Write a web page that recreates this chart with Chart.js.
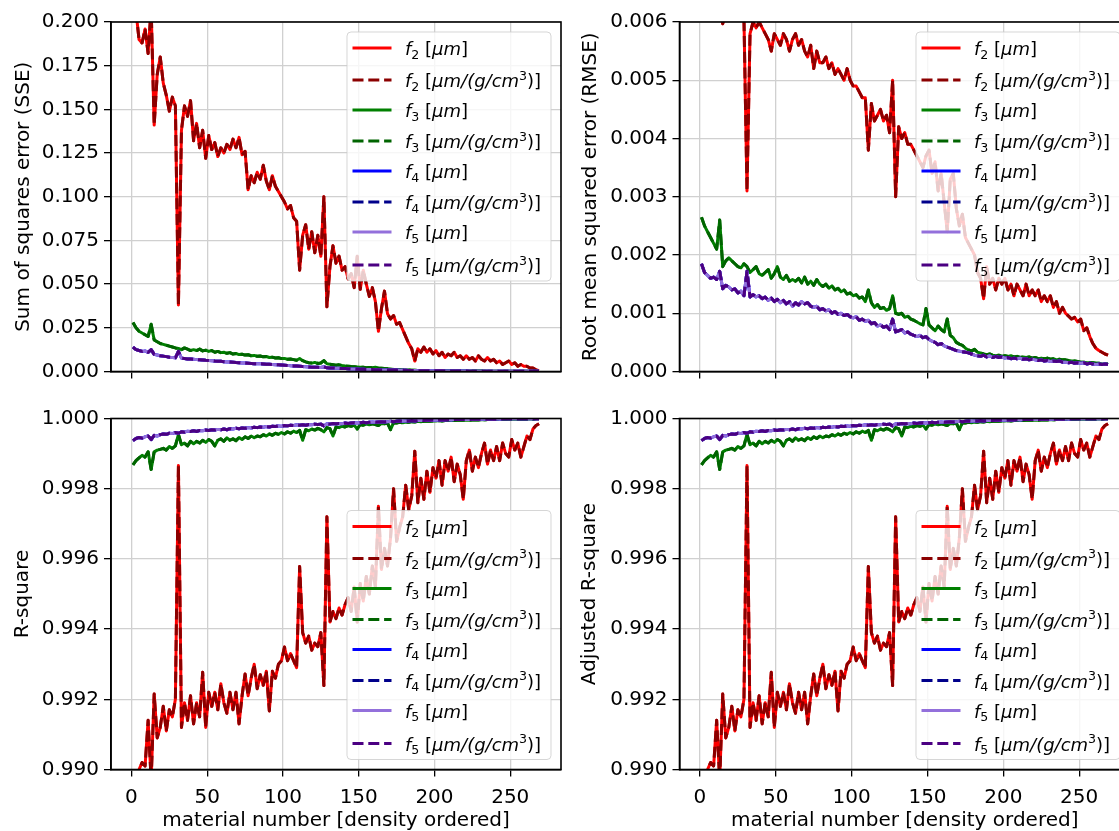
<!DOCTYPE html>
<html>
<head>
<meta charset="utf-8">
<title>Fit quality per material</title>
<script src="https://cdn.jsdelivr.net/npm/chart.js@4.4.1/dist/chart.umd.min.js"></script>
<style>
  html, body { margin: 0; padding: 0; background: #fff; }
  body { width: 1119px; height: 831px; overflow: hidden; position: relative; }
  canvas { position: absolute; }
  #sseChart { left: 0; top: 0; }
  #rmseChart { left: 562px; top: 0; }
  #r2Chart { left: 0; top: 395px; }
  #adjR2Chart { left: 562px; top: 395px; }
</style>
</head>
<body>
<canvas id="sseChart" width="563" height="395"></canvas>
<canvas id="rmseChart" width="570" height="395"></canvas>
<canvas id="r2Chart" width="563" height="436"></canvas>
<canvas id="adjR2Chart" width="570" height="436"></canvas>
<script>
const materialNo = Array.from({length: 135}, (_, i) => 1 + 2 * i);

const xTicks = [0, 50, 100, 150, 200, 250];
const sseTicks = [0, 0.025, 0.05, 0.075, 0.1, 0.125, 0.15, 0.175, 0.2];
const rmseTicks = [0, 0.001, 0.002, 0.003, 0.004, 0.005, 0.006];
const r2Ticks = [0.990, 0.992, 0.994, 0.996, 0.998, 1.000];

// Sum of squares error, one row = 10 materials
const sseF2 = [
  0.215, 0.206, 0.190, 0.188, 0.196, 0.182, 0.208, 0.141, 0.170, 0.180,
  0.165, 0.158, 0.149, 0.157, 0.152, 0.038, 0.138, 0.152, 0.146, 0.155,
  0.132, 0.142, 0.128, 0.138, 0.122, 0.135, 0.127, 0.131, 0.123, 0.128,
  0.125, 0.130, 0.127, 0.133, 0.128, 0.134, 0.124, 0.126, 0.104, 0.112,
  0.108, 0.114, 0.110, 0.118, 0.109, 0.104, 0.112, 0.106, 0.103, 0.100,
  0.097, 0.093, 0.095, 0.088, 0.086, 0.058, 0.078, 0.084, 0.070, 0.080,
  0.068, 0.078, 0.066, 0.100, 0.037, 0.060, 0.072, 0.062, 0.066, 0.058,
  0.060, 0.053, 0.056, 0.048, 0.066, 0.047, 0.058, 0.050, 0.043, 0.048,
  0.040, 0.023, 0.036, 0.046, 0.033, 0.030, 0.032, 0.027, 0.028, 0.024,
  0.020, 0.016, 0.013, 0.006, 0.013, 0.011, 0.014, 0.011, 0.013, 0.010,
  0.012, 0.009, 0.011, 0.008, 0.010, 0.009, 0.011, 0.008, 0.009, 0.007,
  0.009, 0.007, 0.008, 0.006, 0.009, 0.007, 0.006, 0.008, 0.006, 0.007,
  0.005, 0.006, 0.004, 0.005, 0.006, 0.004, 0.005, 0.003, 0.004, 0.003,
  0.003, 0.002, 0.002, 0.001, 0.0005
];
const sseF3 = [
  0.028, 0.025, 0.023, 0.022, 0.021, 0.020, 0.027, 0.018, 0.017, 0.016,
  0.0155, 0.015, 0.0145, 0.014, 0.0135, 0.0132, 0.0125, 0.0135, 0.0128, 0.012,
  0.0125, 0.012, 0.0128, 0.0118, 0.0122, 0.0115, 0.012, 0.011, 0.0115, 0.0108,
  0.011, 0.0104, 0.0108, 0.010, 0.0103, 0.0097, 0.0099, 0.0094, 0.0096, 0.009,
  0.0092, 0.0087, 0.0089, 0.0084, 0.0086, 0.008, 0.0082, 0.0077, 0.0079, 0.0074,
  0.0075, 0.007, 0.0072, 0.0068, 0.0064, 0.0074, 0.0062, 0.0055, 0.005, 0.0048,
  0.0052, 0.0046, 0.0049, 0.0062, 0.0044, 0.0042, 0.0039, 0.0036, 0.0038, 0.0034,
  0.0031, 0.003, 0.0028, 0.0027, 0.0026, 0.0025, 0.0024, 0.0022, 0.0023, 0.0021,
  0.0024, 0.0019, 0.0018, 0.0017, 0.0016, 0.0014, 0.0012, 0.0011, 0.001, 0.0009,
  0.0008, 0.0008, 0.0007, 0.0007, 0.0006, 0.0006, 0.0006, 0.0005, 0.0005, 0.0005,
  0.0005, 0.0004, 0.0004, 0.0004, 0.0004, 0.0004, 0.0004, 0.0003, 0.0003, 0.0003,
  0.0003, 0.0003, 0.0003, 0.0003, 0.0003, 0.0003, 0.0003, 0.0002, 0.0002, 0.0002,
  0.0002, 0.0002, 0.0002, 0.0002, 0.0002, 0.0002, 0.0002, 0.0002, 0.0002, 0.0002,
  0.0001, 0.0001, 0.0001, 0.0001, 0.0001
];
// f4 and f5 lie on top of each other in every panel
const sseF45 = [
  0.014, 0.0125, 0.012, 0.0115, 0.0118, 0.011, 0.0125, 0.0098, 0.0094, 0.009,
  0.0088, 0.0085, 0.0082, 0.008, 0.0078, 0.0115, 0.0076, 0.0074, 0.0072, 0.0071,
  0.007, 0.0068, 0.0067, 0.0066, 0.0064, 0.0063, 0.0062, 0.006, 0.0059, 0.0058,
  0.0056, 0.0055, 0.0054, 0.0053, 0.0051, 0.005, 0.0049, 0.0048, 0.0047, 0.0046,
  0.0045, 0.0045, 0.0044, 0.0043, 0.0042, 0.0041, 0.004, 0.0039, 0.0038, 0.0037,
  0.0036, 0.0035, 0.0033, 0.0032, 0.0031, 0.003, 0.0028, 0.0027, 0.0026, 0.0025,
  0.0025, 0.0024, 0.0023, 0.0027, 0.0021, 0.002, 0.002, 0.0019, 0.0018, 0.0017,
  0.0017, 0.0016, 0.0015, 0.0015, 0.0014, 0.0013, 0.0013, 0.0012, 0.0011, 0.0011,
  0.001, 0.001, 0.0009, 0.0009, 0.0009, 0.0008, 0.0008, 0.0008, 0.0007, 0.0007,
  0.0007, 0.0006, 0.0006, 0.0006, 0.0005, 0.0005, 0.0005, 0.0005, 0.0004, 0.0004,
  0.0004, 0.0004, 0.0004, 0.0003, 0.0003, 0.0003, 0.0003, 0.0003, 0.0003, 0.0003,
  0.0003, 0.0002, 0.0002, 0.0002, 0.0002, 0.0002, 0.0002, 0.0002, 0.0002, 0.0002,
  0.0002, 0.0002, 0.0002, 0.0001, 0.0001, 0.0001, 0.0001, 0.0001, 0.0001, 0.0001,
  0.0001, 0.0001, 0.0001, 0.0001, 0.0001
];

// Root mean squared error
const rmseF2 = [
  0.0068, 0.0067, 0.0066, 0.0064, 0.0065, 0.0063, 0.0062, 0.00597, 0.0062, 0.0064,
  0.0063, 0.0062, 0.0061, 0.0062, 0.00605, 0.0031, 0.0058, 0.0060, 0.0059, 0.0060,
  0.0059, 0.0058, 0.0057, 0.0055, 0.0058, 0.0057, 0.0056, 0.0058, 0.0057, 0.0055,
  0.0057, 0.0058, 0.0056, 0.0057, 0.0055, 0.0054, 0.0056, 0.0052, 0.0055, 0.0053,
  0.0053, 0.0054, 0.0052, 0.0053, 0.0051, 0.0052, 0.0051, 0.0050, 0.0052, 0.0050,
  0.0049, 0.0049, 0.0048, 0.0047, 0.0047, 0.0038, 0.0046, 0.0043, 0.0044, 0.0045,
  0.0043, 0.0044, 0.0041, 0.0050, 0.0030, 0.0042, 0.0040, 0.0041, 0.0039, 0.0039,
  0.0038, 0.0037, 0.0036, 0.0035, 0.0037, 0.0038, 0.0034, 0.0036, 0.0031, 0.0034,
  0.0029, 0.0024, 0.0033, 0.0034, 0.0028, 0.0025, 0.0027, 0.0023, 0.0022, 0.0021,
  0.0020, 0.0017, 0.0016, 0.00125, 0.0018, 0.0015, 0.0016, 0.0014, 0.0016, 0.0015,
  0.0016, 0.0014, 0.0015, 0.0013, 0.0015, 0.0014, 0.0013, 0.0015, 0.0013, 0.0014,
  0.0013, 0.0014, 0.0012, 0.0013, 0.0012, 0.0013, 0.0011, 0.0012, 0.0010, 0.0011,
  0.0010, 0.00095, 0.0009, 0.00093, 0.00085, 0.0009, 0.0007, 0.00075, 0.0006, 0.00048,
  0.0004, 0.00036, 0.00033, 0.0003, 0.00028
];
const rmseF3 = [
  0.00265, 0.0025, 0.0024, 0.0023, 0.0022, 0.0021, 0.0026, 0.0018, 0.0019, 0.00195,
  0.0019, 0.00185, 0.0018, 0.00178, 0.00185, 0.0018, 0.0017, 0.00175, 0.0018, 0.00168,
  0.00165, 0.0017, 0.00175, 0.0016, 0.00168, 0.0018, 0.00162, 0.00158, 0.00165, 0.00155,
  0.00158, 0.00155, 0.0016, 0.00152, 0.00162, 0.0015, 0.00155, 0.00148, 0.00158, 0.0015,
  0.00146, 0.0015, 0.00143, 0.00147, 0.0014, 0.00143, 0.00137, 0.0014, 0.00133, 0.00135,
  0.0013, 0.00132, 0.00126, 0.00128, 0.0012, 0.0014, 0.00118, 0.0011, 0.00115, 0.00108,
  0.0011, 0.00105, 0.00108, 0.0013, 0.001, 0.00098, 0.001, 0.00093, 0.00095, 0.0009,
  0.00088, 0.00085, 0.00082, 0.0008, 0.00108, 0.0008, 0.00075, 0.0007, 0.00078, 0.00072,
  0.00068, 0.0009, 0.00062, 0.00058, 0.0005, 0.00047, 0.00045, 0.0004, 0.00037, 0.00035,
  0.00038, 0.00033, 0.00032, 0.0003, 0.00029, 0.0003, 0.00028, 0.00027, 0.00028, 0.00026,
  0.00027, 0.00026, 0.00027, 0.00025, 0.00026, 0.00024, 0.00025, 0.00024, 0.00025, 0.00023,
  0.00024, 0.00022, 0.00023, 0.00022, 0.00023, 0.00021, 0.00022, 0.0002, 0.00021, 0.0002,
  0.0002, 0.00019, 0.00018, 0.00018, 0.00017, 0.00016, 0.00016, 0.00015, 0.00015, 0.00015,
  0.00014, 0.00014, 0.00013, 0.00013, 0.00013
];
const rmseF45 = [
  0.00185, 0.0017, 0.00165, 0.0016, 0.00162, 0.00158, 0.00172, 0.00142, 0.00148, 0.00145,
  0.0014, 0.00142, 0.00135, 0.00138, 0.0013, 0.00172, 0.00128, 0.00132, 0.00128, 0.0013,
  0.00125, 0.00128, 0.00122, 0.00126, 0.0012, 0.00124, 0.00118, 0.00122, 0.00116, 0.0012,
  0.00112, 0.00118, 0.00114, 0.0012, 0.00116, 0.00118, 0.00112, 0.0011, 0.00112, 0.00106,
  0.00108, 0.00104, 0.00106, 0.001, 0.00103, 0.00098, 0.001, 0.00096, 0.00098, 0.00094,
  0.00092, 0.00094, 0.00088, 0.0009, 0.00086, 0.00088, 0.00082, 0.00084, 0.00078, 0.0008,
  0.00076, 0.00078, 0.00072, 0.0009, 0.00068, 0.0007, 0.00072, 0.00066, 0.00068, 0.00064,
  0.00062, 0.0006, 0.00062, 0.00058, 0.0006, 0.00055, 0.00052, 0.0005, 0.00046, 0.00048,
  0.00044, 0.00042, 0.0004, 0.00038, 0.00036, 0.00035, 0.00034, 0.00033, 0.00032, 0.0003,
  0.00028, 0.00027, 0.00026, 0.00028, 0.00025, 0.00027, 0.00024, 0.00026, 0.00024, 0.00025,
  0.00023, 0.00024, 0.00022, 0.00023, 0.00022, 0.00023, 0.00021, 0.00022, 0.0002, 0.00021,
  0.0002, 0.00019, 0.0002, 0.00018, 0.00019, 0.00017, 0.00018, 0.00017, 0.00018, 0.00016,
  0.00016, 0.00015, 0.00016, 0.00014, 0.00015, 0.00014, 0.00015, 0.00013, 0.00014, 0.00013,
  0.00012, 0.00013, 0.00012, 0.00013, 0.00012
];

// R-square (the adjusted R-square panel reads the same at this scale)
const r2F2 = [
  0.9888, 0.9896, 0.9900, 0.9902, 0.9901, 0.9914, 0.9897, 0.99215, 0.9909, 0.9912,
  0.9918, 0.9911, 0.9917, 0.9915, 0.9920, 0.99866, 0.9912, 0.9919, 0.9914, 0.9921,
  0.9913, 0.9919, 0.9915, 0.99277, 0.9912, 0.9922, 0.9918, 0.9922, 0.9917, 0.99244,
  0.9919, 0.9916, 0.9922, 0.9917, 0.9922, 0.9913, 0.9921, 0.99272, 0.9921, 0.9926,
  0.9930, 0.9923, 0.9927, 0.9924, 0.9928, 0.99167, 0.9928, 0.9926, 0.9930, 0.9931,
  0.99349, 0.9931, 0.9933, 0.9931, 0.9929, 0.99578, 0.9939, 0.9936, 0.9938, 0.9934,
  0.9936, 0.9935, 0.9939, 0.99239, 0.9972, 0.9942, 0.9945, 0.9943, 0.9946, 0.9944,
  0.9947, 0.9949, 0.9945, 0.9952, 0.9942, 0.9953, 0.9948, 0.9955, 0.9950, 0.9958,
  0.9952, 0.9975, 0.9957, 0.9963, 0.9958, 0.9966, 0.9980, 0.9965, 0.9969, 0.9972,
  0.9981, 0.9974, 0.9978, 0.99907, 0.9976, 0.9983, 0.9977, 0.9985, 0.9979, 0.9986,
  0.9983, 0.9988, 0.9981, 0.9988, 0.9985, 0.9989, 0.9982, 0.9987, 0.9984, 0.9977,
  0.9988, 0.9991, 0.9985, 0.9989, 0.9986, 0.9990, 0.9993, 0.9987, 0.9991, 0.9988,
  0.9992, 0.9988, 0.9993, 0.9990, 0.9989, 0.9994, 0.9991, 0.9993, 0.9989, 0.9992,
  0.9995, 0.9994, 0.9997, 0.9998, 0.99985
];
const r2F3 = [
  0.99868, 0.99880, 0.99888, 0.99895, 0.99890, 0.99905, 0.99855, 0.99905, 0.99910, 0.99912,
  0.99915, 0.99910, 0.99920, 0.99915, 0.99922, 0.99955, 0.99925, 0.99930, 0.99922, 0.99935,
  0.99928, 0.99935, 0.99930, 0.99938, 0.99932, 0.99940, 0.99935, 0.99922, 0.99938, 0.99942,
  0.99935, 0.99945, 0.99938, 0.99942, 0.99937, 0.99946, 0.99940, 0.99948, 0.99943, 0.99950,
  0.99945, 0.99950, 0.99948, 0.99954, 0.99950, 0.99956, 0.99952, 0.99958, 0.99955, 0.99960,
  0.99956, 0.99962, 0.99958, 0.99964, 0.99960, 0.99966, 0.99938, 0.99968, 0.99965, 0.99970,
  0.99967, 0.99972, 0.99968, 0.99962, 0.99974, 0.99971, 0.99950, 0.99976, 0.99974, 0.99978,
  0.99976, 0.99980, 0.99978, 0.99981, 0.99970, 0.99983, 0.99981, 0.99984, 0.99982, 0.99985,
  0.99983, 0.99980, 0.99986, 0.99985, 0.99987, 0.99968, 0.99988, 0.99987, 0.99989, 0.99988,
  0.99990, 0.99989, 0.99991, 0.99990, 0.99992, 0.99991, 0.99992, 0.99993, 0.99992, 0.99993,
  0.99993, 0.99994, 0.99993, 0.99994, 0.99994, 0.99995, 0.99994, 0.99995, 0.99995, 0.99995,
  0.99996, 0.99995, 0.99996, 0.99996, 0.99996, 0.99997, 0.99996, 0.99997, 0.99997, 0.99997,
  0.99997, 0.99997, 0.99998, 0.99997, 0.99998, 0.99998, 0.99998, 0.99998, 0.99998, 0.99998,
  0.99998, 0.99999, 0.99998, 0.99999, 0.99999
];
const r2F45 = [
  0.99937, 0.99943, 0.99946, 0.99944, 0.99948, 0.99950, 0.99940, 0.99952, 0.99950, 0.99954,
  0.99956, 0.99955, 0.99958, 0.99957, 0.99960, 0.99958, 0.99962, 0.99961, 0.99964, 0.99963,
  0.99965, 0.99963, 0.99966, 0.99965, 0.99967, 0.99966, 0.99968, 0.99967, 0.99969, 0.99968,
  0.99970, 0.99968, 0.99971, 0.99970, 0.99972, 0.99971, 0.99973, 0.99972, 0.99974, 0.99973,
  0.99975, 0.99974, 0.99976, 0.99975, 0.99977, 0.99976, 0.99978, 0.99977, 0.99979, 0.99978,
  0.99980, 0.99979, 0.99981, 0.99980, 0.99982, 0.99981, 0.99982, 0.99981, 0.99983, 0.99982,
  0.99984, 0.99983, 0.99984, 0.99979, 0.99985, 0.99984, 0.99986, 0.99985, 0.99986, 0.99985,
  0.99987, 0.99986, 0.99987, 0.99988, 0.99987, 0.99988, 0.99989, 0.99988, 0.99989, 0.99990,
  0.99989, 0.99990, 0.99991, 0.99990, 0.99991, 0.99992, 0.99991, 0.99992, 0.99993, 0.99992,
  0.99993, 0.99993, 0.99994, 0.99993, 0.99994, 0.99995, 0.99994, 0.99995, 0.99995, 0.99996,
  0.99995, 0.99996, 0.99996, 0.99996, 0.99997, 0.99996, 0.99997, 0.99997, 0.99997, 0.99997,
  0.99998, 0.99997, 0.99998, 0.99998, 0.99998, 0.99998, 0.99998, 0.99998, 0.99999, 0.99998,
  0.99999, 0.99998, 0.99999, 0.99999, 0.99999, 0.99999, 0.99999, 0.99999, 0.99999, 0.99999,
  0.99999, 0.99999, 0.99999, 0.99999, 0.99999
];

const seriesStyles = [
    { color: '#ff0000', dash: [] },
    { color: '#8b0000', dash: [11, 4.8] },
    { color: '#008000', dash: [] },
    { color: '#006400', dash: [11, 4.8] },
    { color: '#0000ff', dash: [] },
    { color: '#00008b', dash: [11, 4.8] },
    { color: '#9370db', dash: [] },
    { color: '#4b0082', dash: [11, 4.8] }
];

// legend text pieces: italic maths, subscript index, superscript power
function legendParts(n, perDensity) {
    const parts = [{ t: 'f', it: true }, { t: String(n), sub: true }, { t: ' [' }];
    if (perDensity) {
        parts.push({ t: 'μm/(g/cm', it: true }, { t: '3', sup: true }, { t: ')]' });
    } else {
        parts.push({ t: 'μm', it: true }, { t: ']' });
    }
    return parts;
}
const legendLabels = [2, 3, 4, 5].flatMap(n => [legendParts(n, false), legendParts(n, true)]);
const legendRowOffsets = [16, 48, 78, 109, 139, 170, 200, 233];

const FONT = '"DejaVu Sans", "Liberation Sans", sans-serif';

function drawRichText(ctx, parts, x, y) {
    ctx.textBaseline = 'alphabetic';
    ctx.textAlign = 'left';
    ctx.fillStyle = '#000';
    parts.forEach(p => {
        const size = (p.sub || p.sup) ? 12.6 : 18;
        const dy = p.sub ? 3.6 : (p.sup ? -7.5 : 0);
        ctx.font = (p.it ? 'italic ' : '') + size + 'px ' + FONT;
        ctx.fillText(p.t, x, y + dy);
        x += ctx.measureText(p.t).width;
    });
}

const framePlugin = {
    id: 'frameLegend',
    afterDatasetsDraw(chart, args, opts) {
        const { ctx, chartArea: a } = chart;
        ctx.save();
        ctx.strokeStyle = '#000';
        ctx.lineWidth = 1.6;
        ctx.setLineDash([]);
        ctx.strokeRect(a.left, a.top, a.right - a.left, a.bottom - a.top);

        // legend box, semi transparent like matplotlib's
        const w = 204, h = 249, r = 4;
        const left = a.right - 10 - w;
        const top = opts.at === 'top' ? a.top + 10 : a.bottom - 10 - h;
        ctx.beginPath();
        ctx.moveTo(left + r, top);
        ctx.lineTo(left + w - r, top);
        ctx.arcTo(left + w, top, left + w, top + r, r);
        ctx.lineTo(left + w, top + h - r);
        ctx.arcTo(left + w, top + h, left + w - r, top + h, r);
        ctx.lineTo(left + r, top + h);
        ctx.arcTo(left, top + h, left, top + h - r, r);
        ctx.lineTo(left, top + r);
        ctx.arcTo(left, top, left + r, top, r);
        ctx.closePath();
        ctx.fillStyle = 'rgba(255,255,255,0.8)';
        ctx.fill();
        ctx.strokeStyle = 'rgba(204,204,204,0.8)';
        ctx.lineWidth = 1;
        ctx.stroke();

        chart.data.datasets.forEach((ds, i) => {
            const y = top + legendRowOffsets[i];
            ctx.beginPath();
            ctx.setLineDash(ds.borderDash);
            ctx.strokeStyle = ds.borderColor;
            ctx.lineWidth = ds.borderWidth;
            ctx.lineCap = 'butt';
            ctx.moveTo(left + 5.5, y);
            ctx.lineTo(left + 44.5, y);
            ctx.stroke();
            ctx.setLineDash([]);
            drawRichText(ctx, legendLabels[i], left + 58, y + 7);
        });
        ctx.restore();
    }
};

function createPanel(canvasId, panel) {
    const canvas = document.getElementById(canvasId);
    const datasets = seriesStyles.map((st, i) => ({
        label: 'f' + (2 + Math.floor(i / 2)) + (i % 2 ? ' [μm/(g/cm³)]' : ' [μm]'),
        data: materialNo.map((x, k) => ({ x: x, y: panel.series[i][k] })),
        borderColor: st.color,
        borderWidth: 3,
        borderDash: st.dash,
        borderJoinStyle: 'round',
        pointRadius: 0,
        tension: 0,
        fill: false,
        clip: 0,
        order: seriesStyles.length - i
    }));

    new Chart(canvas, {
        type: 'line',
        data: { datasets: datasets },
        plugins: [framePlugin],
        options: {
            responsive: false,
            animation: false,
            devicePixelRatio: 1,
            layout: { padding: { left: 0, right: 2, top: panel.areaTop, bottom: 0 } },
            scales: {
                x: {
                    type: 'linear',
                    min: -13.5,
                    max: 283.5,
                    afterBuildTicks: axis => { axis.ticks = xTicks.map(v => ({ value: v })); },
                    afterFit: axis => { axis.height = panel.xAxisHeight; },
                    grid: { color: '#d0d0d0', lineWidth: 1.3, tickColor: '#000', tickLength: 7, tickWidth: 1.3 },
                    border: { color: '#000', width: 1.6 },
                    ticks: {
                        color: '#000',
                        padding: 9,
                        maxRotation: 0,
                        font: { family: FONT, size: 20 },
                        callback: v => panel.xLabels ? String(v) : ''
                    },
                    title: {
                        display: panel.xLabels,
                        text: 'material number [density ordered]',
                        color: '#000',
                        font: { family: FONT, size: 20, lineHeight: 1 },
                        padding: { top: 0, bottom: 0 }
                    }
                },
                y: {
                    min: panel.yTicks[0],
                    max: panel.yTicks[panel.yTicks.length - 1],
                    afterBuildTicks: axis => { axis.ticks = panel.yTicks.map(v => ({ value: v })); },
                    afterFit: axis => { axis.width = panel.yAxisWidth; },
                    grid: { color: '#d0d0d0', lineWidth: 1.3, tickColor: '#000', tickLength: 7, tickWidth: 1.3 },
                    border: { color: '#000', width: 1.6 },
                    ticks: {
                        color: '#000',
                        padding: 5,
                        font: { family: FONT, size: 20 },
                        callback: v => Number(v).toFixed(3)
                    },
                    title: {
                        display: true,
                        text: panel.yTitle,
                        color: '#000',
                        font: { family: FONT, size: 20, lineHeight: 1 },
                        padding: { top: panel.titlePad, bottom: 0 }
                    }
                }
            },
            plugins: {
                legend: { display: false },
                tooltip: { enabled: false },
                frameLegend: { at: panel.legendAt }
            }
        }
    });
}

document.addEventListener('DOMContentLoaded', function() {
    if (typeof Chart === 'undefined') {
        console.error('Chart.js is not loaded.');
        return;
    }

    createPanel('sseChart', {
        series: [sseF2, sseF2, sseF3, sseF3, sseF45, sseF45, sseF45, sseF45],
        yTicks: sseTicks, yTitle: 'Sum of squares error (SSE)', titlePad: 14,
        yAxisWidth: 111, areaTop: 22, xAxisHeight: 23.5, xLabels: false, legendAt: 'top'
    });
    createPanel('rmseChart', {
        series: [rmseF2, rmseF2, rmseF3, rmseF3, rmseF45, rmseF45, rmseF45, rmseF45],
        yTicks: rmseTicks, yTitle: 'Root mean squared error (RMSE)', titlePad: 19,
        yAxisWidth: 117.5, areaTop: 22, xAxisHeight: 23.5, xLabels: false, legendAt: 'top'
    });
    createPanel('r2Chart', {
        series: [r2F2, r2F2, r2F3, r2F3, r2F45, r2F45, r2F45, r2F45],
        yTicks: r2Ticks, yTitle: 'R-square', titlePad: 13,
        yAxisWidth: 111, areaTop: 23.5, xAxisHeight: 61.5, xLabels: true, legendAt: 'bottom'
    });
    createPanel('adjR2Chart', {
        series: [r2F2, r2F2, r2F3, r2F3, r2F45, r2F45, r2F45, r2F45],
        yTicks: r2Ticks, yTitle: 'Adjusted R-square', titlePad: 18,
        yAxisWidth: 117.5, areaTop: 23.5, xAxisHeight: 61.5, xLabels: true, legendAt: 'bottom'
    });
});
</script>
</body>
</html>
